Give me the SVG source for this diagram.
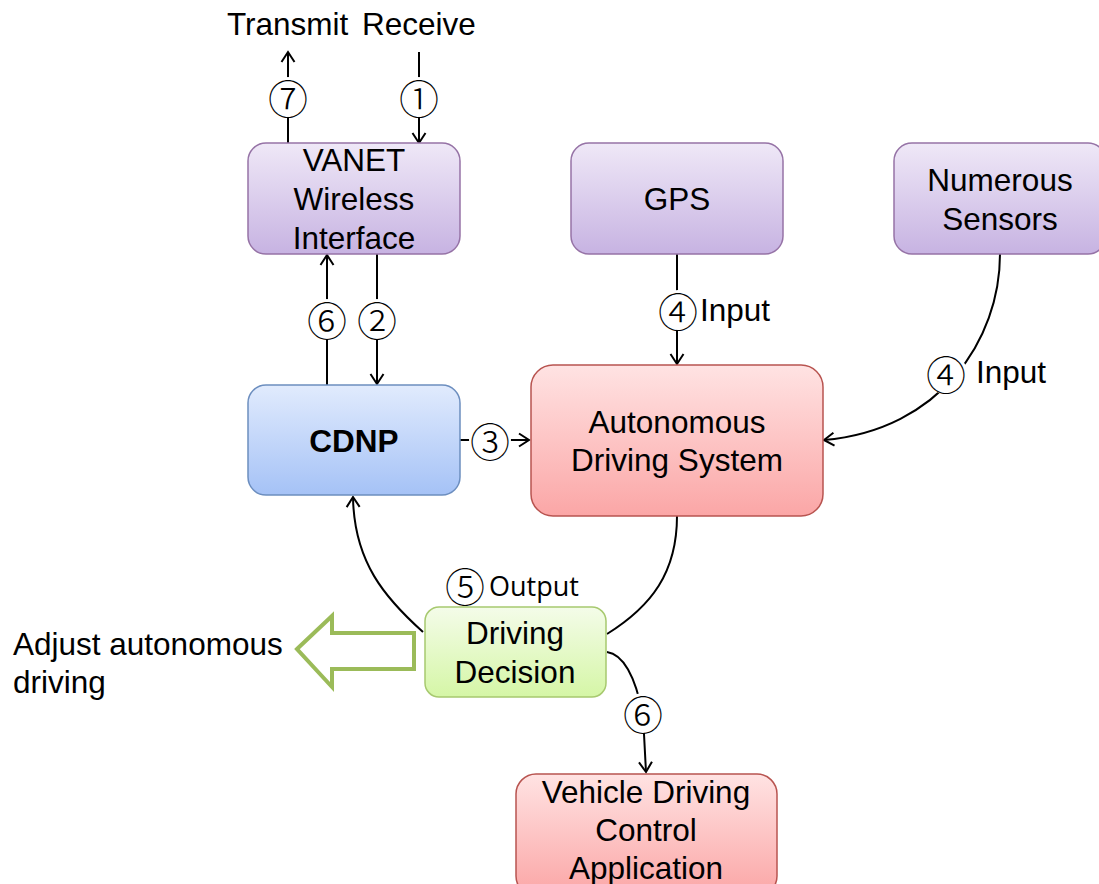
<svg xmlns="http://www.w3.org/2000/svg" width="1099" height="884" viewBox="0 0 1099 884">
<defs>
<linearGradient id="gPurple" x1="0" y1="0" x2="0" y2="1"><stop offset="0" stop-color="#efe8f7"/><stop offset="1" stop-color="#c7b3e2"/></linearGradient>
<linearGradient id="gBlue" x1="0" y1="0" x2="0" y2="1"><stop offset="0" stop-color="#e1ebfd"/><stop offset="1" stop-color="#a5c2f6"/></linearGradient>
<linearGradient id="gRed" x1="0" y1="0" x2="0" y2="1"><stop offset="0" stop-color="#ffe3e3"/><stop offset="1" stop-color="#fba6a6"/></linearGradient>
<linearGradient id="gGreen" x1="0" y1="0" x2="0" y2="1"><stop offset="0" stop-color="#f4fce9"/><stop offset="1" stop-color="#d5f6a6"/></linearGradient>
<marker id="arr" markerUnits="userSpaceOnUse" markerWidth="14" markerHeight="16" refX="11" refY="7" orient="auto" overflow="visible">
<path d="M1,0.5 L11,7 L1,13.5" fill="none" stroke="#000" stroke-width="2"/>
</marker>
<style>
.t{font-family:"Liberation Sans",Arial,sans-serif;font-size:31.5px;fill:#000;text-anchor:middle}
.tl{font-family:"Liberation Sans",Arial,sans-serif;font-size:31.5px;fill:#000}
.c{font-family:"Noto Sans CJK JP","DejaVu Sans",sans-serif;font-weight:300;font-size:40px;fill:#000;text-anchor:middle;dominant-baseline:central}
.o{font-family:"Open Sans","Noto Sans",sans-serif;font-size:27px;fill:#000}
.ln{fill:none;stroke:#000;stroke-width:2}
.bg{fill:#fff;stroke:none}
.purple{fill:url(#gPurple);stroke:#9673a6;stroke-width:1.5}
.blue{fill:url(#gBlue);stroke:#6c8ebf;stroke-width:1.5}
.red{fill:url(#gRed);stroke:#b85450;stroke-width:1.5}
.green{fill:url(#gGreen);stroke:#a7c96f;stroke-width:1.5}
</style>
</defs>
<rect width="1099" height="884" fill="#fff"/>

<g id="connectors">
<path class="ln" d="M288 143 L288 52" marker-end="url(#arr)"/>
<path class="ln" d="M419 52 L419 143" marker-end="url(#arr)"/>
<path class="ln" d="M327 385 L327 255" marker-end="url(#arr)"/>
<path class="ln" d="M377 254 L377 384" marker-end="url(#arr)"/>
<path class="ln" d="M460 440 L529 440" marker-end="url(#arr)"/>
<path class="ln" d="M677 254 L677 364" marker-end="url(#arr)"/>
<path class="ln" d="M1000 254 C1000 340 940 430 824 440" marker-end="url(#arr)"/>
<path class="ln" d="M677 516 C677 572 652 606 607 634"/>
<path class="ln" d="M423 632 C385 598 354 562 353 497" marker-end="url(#arr)"/>
<path class="ln" d="M607 652 C628 655 638 690 643 715 L646 772" marker-end="url(#arr)"/>
<g id="labels">
<circle class="bg" cx="288" cy="97" r="20"/><text class="c" x="288" y="97">⑦</text>
<circle class="bg" cx="419" cy="97" r="20"/><text class="c" x="419" y="97">①</text>
<circle class="bg" cx="327" cy="319" r="20"/><text class="c" x="327" y="319">⑥</text>
<circle class="bg" cx="377" cy="319" r="20"/><text class="c" x="377" y="319">②</text>
<circle class="bg" cx="490" cy="440" r="21"/><text class="c" x="490" y="440">③</text>
<circle class="bg" cx="678" cy="310" r="20"/><text class="c" x="678" y="310">④</text>
<text class="tl" x="700" y="321">Input</text>
<circle class="bg" cx="946" cy="373" r="21"/><text class="c" x="946" y="373">④</text>
<text class="tl" x="976" y="383">Input</text>
<circle class="bg" cx="643" cy="713" r="20"/><text class="c" x="643" y="713">⑥</text>
<text class="c" x="465" y="585">⑤</text>
<text class="o" x="489" y="596">Output</text>
</g>
</g>

<g id="top-labels">
<text class="tl" x="227" y="35">Transmit</text>
<text class="tl" x="362" y="35">Receive</text>
</g>

<g id="vanet">
<rect class="purple" x="248" y="143" width="212" height="111" rx="18"/>
<text class="t" x="354" y="171">VANET</text>
<text class="t" x="354" y="210">Wireless</text>
<text class="t" x="354" y="249">Interface</text>
</g>

<g id="gps">
<rect class="purple" x="571" y="143" width="212" height="111" rx="18"/>
<text class="t" x="677" y="210">GPS</text>
</g>

<g id="sensors">
<rect class="purple" x="894" y="143" width="212" height="111" rx="18"/>
<text class="t" x="1000" y="191">Numerous</text>
<text class="t" x="1000" y="230">Sensors</text>
</g>

<g id="cdnp">
<rect class="blue" x="248" y="385" width="212" height="110" rx="18"/>
<text class="t" x="354" y="452" font-weight="bold">CDNP</text>
</g>

<g id="ads">
<rect class="red" x="531" y="365" width="292" height="151" rx="22"/>
<text class="t" x="677" y="433">Autonomous</text>
<text class="t" x="677" y="471">Driving System</text>
</g>

<g id="decision">
<rect class="green" x="425" y="607" width="181" height="90" rx="14"/>
<text class="t" x="515" y="644">Driving</text>
<text class="t" x="515" y="683">Decision</text>
</g>

<g id="adjust">
<path d="M297 649 L332 616 L332 633 L414 633 L414 669 L332 669 L332 687 Z" fill="#fff" stroke="#9bbb59" stroke-width="4" stroke-linejoin="miter"/>
<text class="tl" x="13" y="655">Adjust autonomous</text>
<text class="tl" x="13" y="693">driving</text>
</g>

<g id="vehicle">
<rect class="red" x="516" y="774" width="261" height="122" rx="20"/>
<text class="t" x="646" y="803">Vehicle Driving</text>
<text class="t" x="646" y="841">Control</text>
<text class="t" x="646" y="879">Application</text>
</g>
</svg>
